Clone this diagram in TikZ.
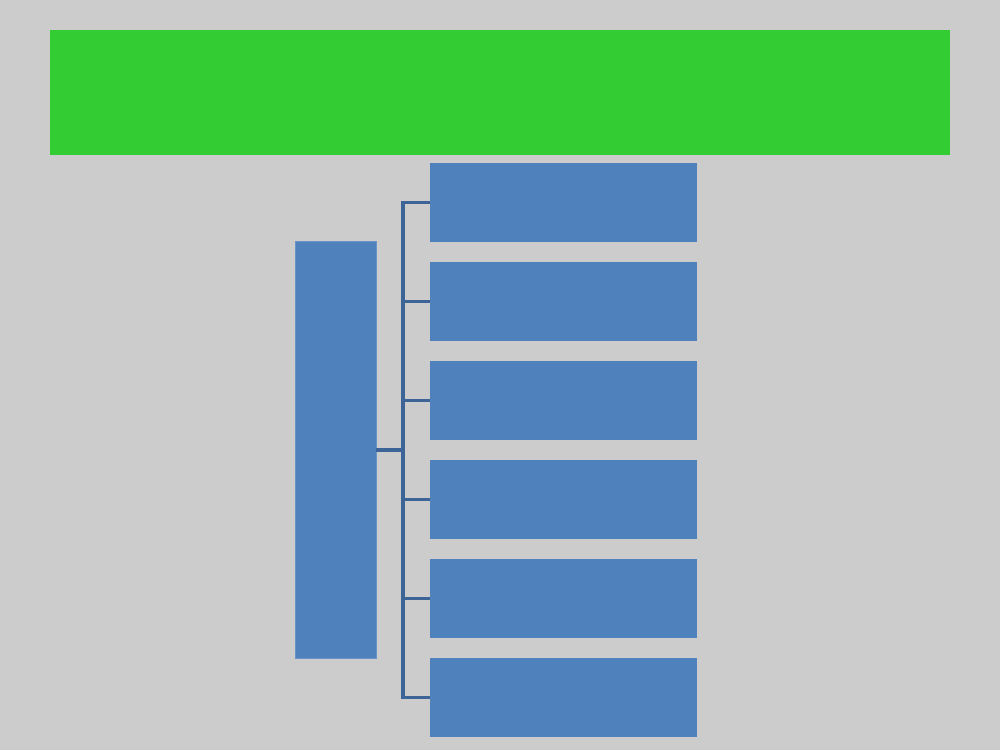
\documentclass[tikz,border=0pt]{standalone}
\usepackage{tikz}
\definecolor{bggray}{rgb}{0.800,0.800,0.800}
\definecolor{bannergreen}{rgb}{0.200,0.800,0.200}
\definecolor{boxblue}{rgb}{0.310,0.506,0.741}
\definecolor{lineblue}{rgb}{0.235,0.392,0.588}
\tikzstyle{banner}=[rectangle,fill=bannergreen,inner sep=0pt,minimum width=18cm,minimum height=2.5cm]
\tikzstyle{root}=[rectangle,fill=boxblue,draw=boxblue!85!white,inner sep=0pt,minimum width=1.62cm,minimum height=8.34cm]
\tikzstyle{leaf}=[rectangle,fill=boxblue,inner sep=0pt,minimum width=5.34cm,minimum height=1.58cm]
\tikzstyle{link}=[draw=lineblue,line width=2.2pt]
\begin{document}
\begin{tikzpicture}[x=0.02cm,y=-0.02cm]
	\fill [bggray] (0,0) rectangle (1000,750);
	\node [style=banner] (title) at (500,92.5) {};
	\node [style=root] (r) at (335.5,449.5) {};
	\node [style=leaf] (1) at (563.5,202.5) {};
	\node [style=leaf] (2) at (563.5,301.5) {};
	\node [style=leaf] (3) at (563.5,400.5) {};
	\node [style=leaf] (4) at (563.5,499.5) {};
	\node [style=leaf] (5) at (563.5,598.5) {};
	\node [style=leaf] (6) at (563.5,697.5) {};
	\coordinate (j) at (403,450);
	\draw [style=link] (r.east |- j) -- (j);
	\draw [style=link] (1.west) -| (j) |- (6.west);
	\foreach \k in {2,...,5}
		\draw [style=link] (j |- \k.west) -- (\k.west);
\end{tikzpicture}
\end{document}
